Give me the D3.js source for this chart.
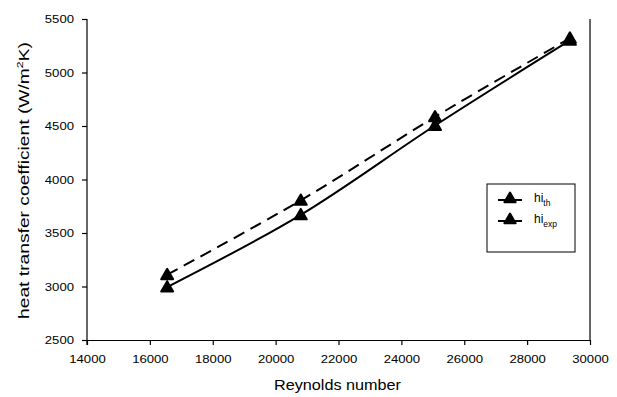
<!DOCTYPE html>
<html>
<head>
<meta charset="utf-8">
<script src="https://cdnjs.cloudflare.com/ajax/libs/d3/7.8.5/d3.min.js"></script>
<style>
  body { margin: 0; background: #fff; }
  text { font-family: "Liberation Sans", Arial, sans-serif; fill: #000; }
</style>
</head>
<body>
<svg id="chart" width="617" height="397"></svg>
<script>
// data
let reynolds = [16550, 20800, 25070, 29360];
let hiTh = [2995, 3670, 4505, 5300];
let hiExp = [3110, 3805, 4585, 5320];
let xTicks = [14000, 16000, 18000, 20000, 22000, 24000, 26000, 28000, 30000];
let yTicks = [2500, 3000, 3500, 4000, 4500, 5000, 5500];

let svg = d3.select("#chart");
let width = 617, height = 397;
let margin = {left: 87, right: 27, top: 19, bottom: 57};

let x = d3.scaleLinear().domain([14000, 30000]).range([margin.left, width - margin.right]);
let y = d3.scaleLinear().domain([2500, 5500]).range([height - margin.bottom, margin.top]);

// axes
let xAxis = svg.append("g")
  .attr("transform", "translate(0," + y(2500) + ")")
  .call(d3.axisBottom(x).tickValues(xTicks).tickFormat(d3.format("d")).tickSizeInner(5).tickSizeOuter(0).tickPadding(10));
let yAxis = svg.append("g")
  .attr("transform", "translate(" + x(14000) + ",0)")
  .call(d3.axisLeft(y).tickValues(yTicks).tickFormat(d3.format("d")).tickSizeInner(5).tickSizeOuter(0).tickPadding(8));

[xAxis, yAxis].forEach(function(ax){
  ax.select(".domain").attr("stroke", "#000").attr("stroke-width", 1.2);
  ax.selectAll(".tick line").attr("stroke", "#000").attr("stroke-width", 1.2);
  ax.selectAll(".tick text")
    .style("font-size", "11.5px")
    .attr("fill", "#222")
    .attr("textLength", d => String(d).length * 7.3)
    .attr("lengthAdjust", "spacingAndGlyphs");
});
// left axis reaches down past the bottom axis like a tick
yAxis.select(".domain").attr("d", "M0," + y(5500) + "V" + (y(2500) + 5));

// right frame line
svg.append("line")
  .attr("x1", x(30000)).attr("x2", x(30000))
  .attr("y1", y(5500)).attr("y2", y(2500))
  .attr("stroke", "#000").attr("stroke-width", 1.2);

// axis titles
svg.append("text")
  .attr("x", (x(14000) + x(30000)) / 2 - 1)
  .attr("y", 390)
  .attr("text-anchor", "middle")
  .attr("textLength", 127)
  .attr("lengthAdjust", "spacingAndGlyphs")
  .attr("fill", "#222")
  .style("font-size", "14px")
  .text("Reynolds number");

let yLabel = svg.append("text")
  .attr("transform", "translate(29," + (y(4000) + 1) + ") rotate(-90)")
  .attr("text-anchor", "middle")
  .attr("textLength", 277)
  .attr("lengthAdjust", "spacingAndGlyphs")
  .attr("fill", "#222")
  .style("font-size", "14px");
yLabel.append("tspan").text("heat transfer coefficient (W/m");
yLabel.append("tspan").attr("dy", -6).style("font-size", "9px").text("2");
yLabel.append("tspan").attr("dy", 6).text("K)");

// series
let series = [
  {name: "exp", values: hiExp, dash: "12,7"},
  {name: "th", values: hiTh, dash: null}
];
let line = d3.line()
  .x(d => x(d[0]))
  .y(d => y(d[1]))
  .curve(d3.curveCatmullRom.alpha(0.5));
let marker = d3.symbol().type(d3.symbolTriangle).size(62);

series.forEach(function(s){
  let pts = reynolds.map((r, i) => [r, s.values[i]]);
  svg.append("path")
    .datum(pts)
    .attr("d", line)
    .attr("fill", "none")
    .attr("stroke", "#000")
    .attr("stroke-width", 2)
    .attr("stroke-dasharray", s.dash);
  svg.selectAll(".pt-" + s.name)
    .data(pts)
    .enter()
    .append("path")
    .attr("class", "pt-" + s.name)
    .attr("d", marker)
    .attr("transform", d => "translate(" + x(d[0]) + "," + (y(d[1]) + 1) + ")")
    .attr("fill", "#000")
    .attr("stroke", "#000")
    .attr("stroke-width", 2)
    .attr("stroke-linejoin", "round");
});

// legend
let legend = svg.append("g").attr("transform", "translate(487,184)");
legend.append("rect")
  .attr("width", 88).attr("height", 68)
  .attr("fill", "#fff").attr("stroke", "#000").attr("stroke-width", 1);
let legendItems = [{main: "hi", sub: "th"}, {main: "hi", sub: "exp"}];
legendItems.forEach(function(d, i){
  let ly = 16 + i * 21;
  legend.append("line")
    .attr("x1", 11).attr("x2", 35).attr("y1", ly).attr("y2", ly)
    .attr("stroke", "#000").attr("stroke-width", 2);
  legend.append("path")
    .attr("d", d3.symbol().type(d3.symbolTriangle).size(55))
    .attr("transform", "translate(23," + (ly - 1) + ")")
    .attr("fill", "#000").attr("stroke", "#000").attr("stroke-width", 2)
    .attr("stroke-linejoin", "round");
  let t = legend.append("text")
    .attr("x", 47).attr("y", ly + 2)
    .attr("fill", "#222")
    .style("font-size", "12px");
  t.append("tspan").text(d.main);
  t.append("tspan").attr("dy", 4).style("font-size", "8.5px").text(d.sub);
});
</script>
</body>
</html>
